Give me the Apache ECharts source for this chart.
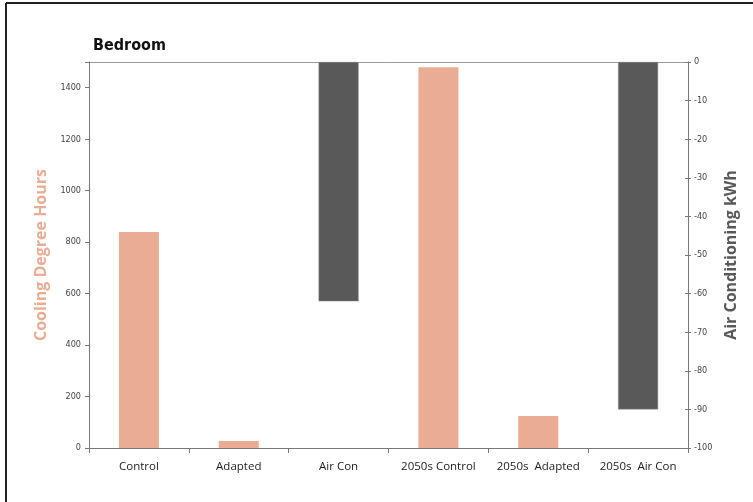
<!DOCTYPE html>
<html>
<head>
<meta charset="utf-8">
<script src="https://cdn.jsdelivr.net/npm/echarts@6/dist/echarts.min.js"></script>
<style>
  html, body { margin: 0; padding: 0; background: #fff; }
  #chart { width: 753px; height: 502px; }
</style>
</head>
<body>
<div id="chart"></div>
<script>
var categories = ["Control", "Adapted", "Air Con", "2050s Control", "2050s  Adapted", "2050s  Air Con"];
var degreeHours = [839, 27, null, 1480, 124, null];
var airConKwh = [null, null, -62, null, null, -90];
var leftTicks = [0, 200, 400, 600, 800, 1000, 1200, 1400];
var rightTicks = [0, -10, -20, -30, -40, -50, -60, -70, -80, -90, -100];

var narrow = "'DejaVu Sans Condensed', 'Liberation Sans Narrow', Roboto, sans-serif";

var myChart = echarts.init(document.getElementById("chart"));
var option = {
  animation: false,
  title: {
    text: "Bedroom",
    left: 88,
    top: 33,
    textStyle: {
      fontFamily: narrow,
      fontSize: 16,
      fontWeight: "bold",
      color: "#111"
    }
  },
  graphic: [
    { type: "line", shape: { x1: 6, y1: 3, x2: 6, y2: 502 }, style: { stroke: "#222", lineWidth: 2 } },
    { type: "line", shape: { x1: 6, y1: 3, x2: 753, y2: 3 }, style: { stroke: "#222", lineWidth: 2 } },
    { type: "line", shape: { x1: 89, y1: 62.5, x2: 688, y2: 62.5 }, style: { stroke: "#999", lineWidth: 1 } }
  ],
  grid: {
    left: 89,
    right: 65,
    top: 62,
    bottom: 54
  },
  xAxis: {
    type: "category",
    data: categories,
    boundaryGap: true,
    axisLine: { lineStyle: { color: "#777" } },
    axisTick: { show: true, alignWithLabel: false, length: 5, lineStyle: { color: "#777" } },
    axisLabel: {
      interval: 0,
      margin: 13,
      fontFamily: "'Open Sans', sans-serif",
      fontSize: 11.5,
      color: "#222"
    }
  },
  yAxis: [
    {
      type: "value",
      min: 0,
      max: 1500,
      interval: 200,
      name: "Cooling Degree Hours",
      nameLocation: "middle",
      nameGap: 33,
      nameTextStyle: {
        fontFamily: "'Open Sans', sans-serif",
        fontSize: 16,
        fontWeight: "bold",
        color: "#EAAD93"
      },
      axisLine: { show: true, lineStyle: { color: "#777" } },
      axisTick: { show: true, length: 4, lineStyle: { color: "#777" } },
      splitLine: { show: false },
      axisLabel: {
        fontFamily: narrow,
        fontSize: 9,
        color: "#444",
        margin: 8,
        formatter: function (v) { return leftTicks.indexOf(v) >= 0 ? String(v) : ""; }
      }
    },
    {
      type: "value",
      min: -100,
      max: 0,
      interval: 10,
      position: "right",
      name: "Air Conditioning kWh",
      nameLocation: "middle",
      nameGap: 33,
      nameRotate: 90,
      nameTextStyle: {
        fontFamily: "'Open Sans', sans-serif",
        fontSize: 16,
        fontWeight: "bold",
        color: "#595959"
      },
      axisLine: { show: true, lineStyle: { color: "#777" } },
      axisTick: { show: true, inside: false, length: 3, lineStyle: { color: "#777" } },
      splitLine: { show: false },
      axisLabel: {
        fontFamily: narrow,
        fontSize: 9,
        color: "#444",
        margin: 6,
        formatter: function (v) { return rightTicks.indexOf(v) >= 0 ? String(v) : ""; }
      }
    },
    {
      // inner half of the crossing ticks on the right axis
      type: "value",
      min: -100,
      max: 0,
      interval: 10,
      position: "right",
      axisLine: { show: false },
      axisTick: { show: true, inside: true, length: 3, lineStyle: { color: "#777" } },
      axisLabel: { show: false },
      splitLine: { show: false }
    }
  ],
  series: [
    {
      name: "Cooling Degree Hours",
      type: "bar",
      yAxisIndex: 0,
      data: degreeHours,
      barWidth: 40,
      barGap: "-100%",
      itemStyle: { color: "#EAAD93" }
    },
    {
      name: "Air Conditioning kWh",
      type: "bar",
      yAxisIndex: 1,
      data: airConKwh,
      barWidth: 40,
      itemStyle: { color: "#595959", borderColor: "#8a8a8a", borderWidth: 0.5 }
    }
  ]
};
myChart.setOption(option);
</script>
</body>
</html>
